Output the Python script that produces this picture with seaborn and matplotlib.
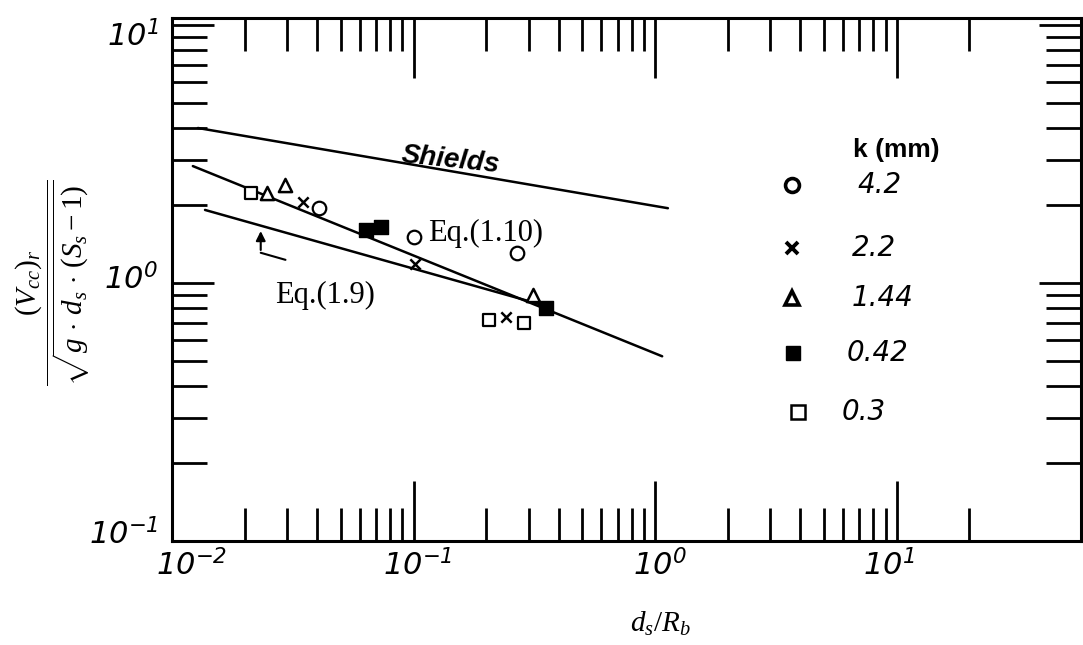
import numpy as np
import pandas as pd
import matplotlib
matplotlib.use("Agg")
import matplotlib.pyplot as plt
import matplotlib.transforms as mtransforms
import seaborn as sns
from matplotlib.ticker import FixedLocator, FixedFormatter, NullFormatter

# ---------------- data ----------------
k_labels = ["4.2", "2.2", "1.44", "0.42", "0.3"]

x_k42 = [0.0405, 0.100, 0.267]
y_k42 = [1.95, 1.51, 1.31]
x_k22 = [0.0349, 0.101, 0.241]
y_k22 = [2.06, 1.18, 0.74]
x_k144 = [0.0248, 0.0295, 0.313]
y_k144 = [2.24, 2.39, 0.90]
x_k042 = [0.0636, 0.0731, 0.355]
y_k042 = [1.60, 1.65, 0.80]
x_k03 = [0.0213, 0.205, 0.287]
y_k03 = [2.23, 0.72, 0.70]

shields_x = [0.0128, 1.13]
shields_y = [3.99, 1.95]
eq110_x = [0.0122, 1.07]
eq110_y = [2.84, 0.52]
eq19_x = [0.0137, 0.342]
eq19_y = [1.92, 0.822]
arrow_x = [0.0295, 0.0233, 0.0233]
arrow_y = [1.23, 1.31, 1.63]

x_major = [1e-2, 1e-1, 1e0, 1e1]
x_major_labels = [r"$\mathsf{10^{-2}}$", r"$\mathsf{10^{-1}}$", r"$\mathsf{10^{0}}$", r"$\mathsf{10^{1}}$"]
y_major = [1e-1, 1e0, 1e1]
y_major_labels = [r"$\mathsf{10^{-1}}$", r"$\mathsf{10^{0}}$", r"$\mathsf{10^{1}}$"]

# ---------------- style ----------------
sns.set_style("white")
plt.rcParams["font.family"] = ["DejaVu Sans"]
plt.rcParams["text.color"] = "black"
plt.rcParams["axes.labelcolor"] = "black"
plt.rcParams["xtick.color"] = "black"
plt.rcParams["ytick.color"] = "black"
plt.rcParams["mathtext.fontset"] = "custom"
plt.rcParams["mathtext.rm"] = "Liberation Serif"
plt.rcParams["mathtext.it"] = "Liberation Serif:italic"
plt.rcParams["mathtext.bf"] = "Liberation Serif:bold"
plt.rcParams["mathtext.sf"] = "DejaVu Sans:italic"

W, H = 1083, 645
fig = plt.figure(figsize=(W / 100, H / 100), dpi=100)
fig.patch.set_facecolor("white")
ax = fig.add_axes([172 / W, 1 - 541 / H, (1081 - 172) / W, (541 - 18) / H])
ax.set_facecolor("white")
ax.set_xscale("log")
ax.set_yscale("log")
ax.set_xlim(0.01, 58)
ax.set_ylim(0.1, 10.65)

# ---------------- lines ----------------
for lx, ly in [(shields_x, shields_y), (eq110_x, eq110_y), (eq19_x, eq19_y)]:
    sns.lineplot(x=lx, y=ly, color="black", lw=1.8, sort=False, estimator=None, ax=ax)

# arrow for Eq.(1.9)
ax.plot(arrow_x[:2], arrow_y[:2], color="black", lw=1.5)
ax.annotate("", xy=(arrow_x[2], arrow_y[2]), xytext=(arrow_x[1], arrow_y[1]),
            arrowprops=dict(arrowstyle="-|>", color="black", lw=1.5, mutation_scale=14))

# ---------------- data points ----------------
sns.scatterplot(x=x_k42, y=y_k42, marker="o", s=95, facecolor="white", edgecolor="black",
                linewidth=1.6, ax=ax, zorder=4)
sns.scatterplot(x=x_k22, y=y_k22, marker="x", s=55, color="black", linewidth=1.8, ax=ax, zorder=4)
sns.scatterplot(x=x_k144, y=y_k144, marker="^", s=90, facecolor="white", edgecolor="black",
                linewidth=1.8, ax=ax, zorder=4)
sns.scatterplot(x=x_k042, y=y_k042, marker="s", s=90, color="black", edgecolor="black",
                linewidth=1, ax=ax, zorder=4)
sns.scatterplot(x=x_k03, y=y_k03, marker="s", s=85, facecolor="white", edgecolor="black",
                linewidth=1.6, ax=ax, zorder=4)

# ---------------- axes / ticks ----------------
x_minor = [m * d for d in (1e-2, 1e-1, 1e0) for m in range(2, 10)] + [20]
y_minor = [m * d for d in (1e-1, 1e0) for m in range(2, 10)]
ax.xaxis.set_major_locator(FixedLocator(x_major))
ax.xaxis.set_major_formatter(FixedFormatter(x_major_labels))
ax.xaxis.set_minor_locator(FixedLocator(x_minor))
ax.xaxis.set_minor_formatter(NullFormatter())
ax.yaxis.set_major_locator(FixedLocator(y_major))
ax.yaxis.set_major_formatter(FixedFormatter(y_major_labels))
ax.yaxis.set_minor_locator(FixedLocator(y_minor))
ax.yaxis.set_minor_formatter(NullFormatter())

ax.tick_params(which="both", direction="in", top=True, right=True, bottom=True, left=True,
               color="black", width=2)
ax.tick_params(axis="x", which="major", length=43, labelsize=22, pad=6)
ax.tick_params(axis="x", which="minor", length=24)
ax.tick_params(axis="y", which="major", length=30, labelsize=22, pad=10)
ax.tick_params(axis="y", which="minor", length=25)
for sp in ax.spines.values():
    sp.set_visible(True)
    sp.set_color("black")
    sp.set_linewidth(2.2)

# shift tick labels like the hand-lettered originals
x_shift_px = [20, 4, 5, -8]
for lab, dx in zip(ax.get_xticklabels(), x_shift_px):
    lab.set_transform(lab.get_transform() + mtransforms.ScaledTranslation(dx / 100, 0, fig.dpi_scale_trans))
y_shift_px = [10, 7, -8]
for lab, dy in zip(ax.get_yticklabels(), y_shift_px):
    lab.set_transform(lab.get_transform() + mtransforms.ScaledTranslation(0, dy / 100, fig.dpi_scale_trans))

# ---------------- annotations ----------------
fig.text(400 / W, 1 - 160 / H, "Shields", fontsize=20, fontweight="bold", fontstyle="italic",
         family="Liberation Sans", rotation=-6, ha="left", va="center")
fig.text(428 / W, 1 - 233 / H, "Eq.(1.10)", fontsize=22, family="Liberation Serif",
         ha="left", va="center")
fig.text(275 / W, 1 - 295 / H, "Eq.(1.9)", fontsize=22, family="Liberation Serif",
         ha="left", va="center")

# ---------------- manual legend ----------------
fig.text(853 / W, 1 - 150 / H, "k (mm)", fontsize=19, fontweight="bold",
         family="Liberation Sans", ha="left", va="center")
leg_marker_px = [(792, 185), (792, 248), (792, 298), (793, 353), (798, 412)]
leg_text_px = [858, 852, 852, 847, 842]
leg_styles = [
    dict(marker="o", markersize=10, markerfacecolor="white", markeredgecolor="black", markeredgewidth=2.6),
    dict(marker="x", markersize=9, markeredgecolor="black", markeredgewidth=2.8),
    dict(marker="^", markersize=10, markerfacecolor="white", markeredgecolor="black", markeredgewidth=2.6),
    dict(marker="s", markersize=10, markerfacecolor="black", markeredgecolor="black"),
    dict(marker="s", markersize=10, markerfacecolor="white", markeredgecolor="black", markeredgewidth=1.8),
]
for (mx, my), tx, st, lab in zip(leg_marker_px, leg_text_px, leg_styles, k_labels):
    ax.plot([mx / W], [1 - my / H], transform=fig.transFigure, clip_on=False, linestyle="none", **st)
    fig.text(tx / W, 1 - my / H, lab, fontsize=20, fontstyle="italic", family="DejaVu Sans",
             ha="left", va="center")

# ---------------- axis labels ----------------
fig.text(53 / W, 1 - 283 / H, r"$\dfrac{(V_{cc})_r}{\sqrt{g\,\cdot\,d_s\,\cdot\,(S_s-1)}}$",
         rotation=90, ha="center", va="center", fontsize=21)
fig.text(660 / W, 1 - 624 / H, r"$d_s/R_b$", fontsize=21, ha="center", va="center")

fig.savefig("out.png", dpi=100, facecolor="white")
